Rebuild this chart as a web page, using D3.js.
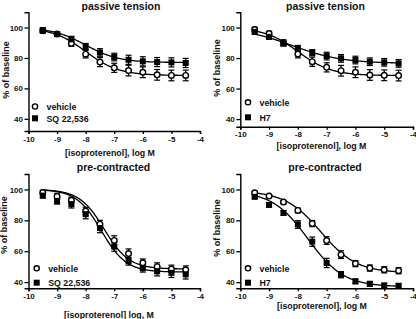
<!DOCTYPE html>
<html><head><meta charset="utf-8">
<script src="https://cdn.jsdelivr.net/npm/d3@7"></script>
<style>
html,body{margin:0;padding:0;background:#fff;}
svg{display:block;font-family:"Liberation Sans",Arial,sans-serif;font-weight:bold;}
</style></head>
<body>
<svg id="chart" width="416" height="319"></svg>
<script>
// ---- data ----
const logDose = [-9.5, -9, -8.5, -8, -7.5, -7, -6.5, -6, -5.5, -5, -4.5];
const xTicks = [-10, -9, -8, -7, -6, -5, -4];
const yTicks = [40, 60, 80, 100];
const panelTitles = ["passive tension", "passive tension", "pre-contracted", "pre-contracted"];
const xTitles = ["[isoproterenol], log M", "[isoproterenol], log M", "[isoproterenol] log, M", "[isoproterenol], log M"];
const yTitle = "% of baseline";
const legendOpen = ["vehicle", "vehicle", "vehicle", "vehicle"];
const legendFilled = ["SQ 22,536", "H7", "SQ 22,536", "H7"];

// panel 1: passive tension, vehicle vs SQ 22,536
const p1Vehicle    = [97.8, 95.7, 89.6, 82.5, 77.3, 73.5, 71.7, 70.6, 68.9, 68.5, 68.5];
const p1VehicleErr = [1.5, 1.5, 2, 2.5, 3, 3, 3.5, 3.5, 3.5, 3.5, 3.5];
const p1Drug       = [98.3, 95.7, 92.2, 87.5, 83.6, 80.6, 78.8, 77.8, 77.3, 77.1, 76.7];
const p1DrugErr    = [1.5, 1.5, 2, 2, 2.5, 2.5, 3, 3, 3, 3, 3];
// panel 2: passive tension, vehicle vs H7
const p2Vehicle    = [98.7, 96.1, 90.0, 82.6, 77.6, 73.9, 71.7, 70.7, 68.9, 68.7, 68.5];
const p2VehicleErr = [1.5, 1.5, 2, 2.5, 3, 3, 3.5, 3.5, 3.5, 3.5, 3.5];
const p2Drug       = [97.2, 93.9, 89.6, 86.3, 83.5, 81.3, 79.8, 78.7, 77.6, 77.2, 76.5];
const p2DrugErr    = [1.5, 1.5, 1.5, 2, 2, 2.5, 2.5, 2.5, 2.5, 2.5, 2.5];
// panel 3: pre-contracted, vehicle vs SQ 22,536
const p3Vehicle    = [98.0, 95.5, 93.0, 86.0, 77.5, 67.0, 58.5, 52.5, 50.0, 48.5, 48.0];
const p3VehicleErr = [1.5, 2, 2, 2.5, 2.5, 3, 3, 2.5, 2.5, 2.5, 2.5];
const p3Drug       = [96.0, 92.5, 90.5, 84.0, 75.0, 63.0, 53.5, 49.0, 47.0, 46.0, 45.0];
const p3DrugErr    = [1.5, 2, 2.5, 3, 3, 3, 2.5, 2.5, 3, 3, 3];
// panel 4: pre-contracted, vehicle vs H7
const p4Vehicle    = [97.8, 95.7, 91.8, 86.4, 77.9, 66.9, 57.8, 52.0, 49.1, 48.0, 47.4];
const p4VehicleErr = [1, 1, 1, 1.5, 2, 2.5, 2.5, 2, 2, 2, 2];
const p4Drug       = [95.2, 90.0, 84.8, 77.3, 66.2, 52.4, 44.8, 40.5, 38.9, 37.8, 37.6];
const p4DrugErr    = [1, 1.5, 1.5, 2.5, 3, 3, 2, 1.5, 1.5, 1.5, 1.5];

// fitted sigmoid parameters: [top, bottom, logEC50, hill]
const p1VehicleFit = [100, 68.5, -8.0, 0.75];
const p1DrugFit    = [100, 77.0, -8.0, 0.75];
const p2VehicleFit = [100, 68.5, -8.0, 0.75];
const p2DrugFit    = [100, 76.5, -8.2, 0.5];
const p3VehicleFit = [100, 48.5, -7.35, 1.0];
const p3DrugFit    = [100, 46.5, -7.45, 1.0];
const p4VehicleFit = [99, 46, -7.2, 0.7];
const p4DrugFit    = [99, 37, -7.65, 0.7];

// ---- layout ----
const panels = [
  {vehicle:p1Vehicle, vErr:p1VehicleErr, drug:p1Drug, dErr:p1DrugErr, vFit:p1VehicleFit, dFit:p1DrugFit,
   xr:[28.5,200], yd:[32,110], yr:[131,12.3], title:[121,10], xt:[110,155.5], yt:[9,70], leg:[35,106.5,118.3]},
  {vehicle:p2Vehicle, vErr:p2VehicleErr, drug:p2Drug, dErr:p2DrugErr, vFit:p2VehicleFit, dFit:p2DrugFit,
   xr:[240.3,413], yd:[35,110], yr:[126.7,12.3], title:[325.5,10], xt:[321.5,149], yt:[220,68], leg:[248,102.3,117.3]},
  {vehicle:p3Vehicle, vErr:p3VehicleErr, drug:p3Drug, dErr:p3DrugErr, vFit:p3VehicleFit, dFit:p3DrugFit,
   xr:[28.5,200], yd:[36,110], yr:[288.3,174], title:[113.5,171], xt:[109,318], yt:[7,225], leg:[36.7,268.3,282.7]},
  {vehicle:p4Vehicle, vErr:p4VehicleErr, drug:p4Drug, dErr:p4DrugErr, vFit:p4VehicleFit, dFit:p4DrugFit,
   xr:[240.3,413], yd:[36,110], yr:[288.3,174], title:[325,171], xt:[322,309], yt:[220,228], leg:[248,268.3,282.7]}
];

const svg = d3.select("#chart");
const sig = (p, x) => p[1] + (p[0] - p[1]) / (1 + Math.pow(10, (x - p[2]) * p[3]));

panels.forEach((P, i) => {
  const x = d3.scaleLinear().domain([-10, -4]).range(P.xr);
  const y = d3.scaleLinear().domain(P.yd).range(P.yr);
  const g = svg.append("g");

  // axes
  const xAxis = g.append("g").attr("transform", `translate(0,${P.yr[0]})`)
    .call(d3.axisBottom(x).tickValues(xTicks).tickSize(3).tickPadding(2));
  const yAxis = g.append("g").attr("transform", `translate(${P.xr[0]},0)`)
    .call(d3.axisLeft(y).tickValues(yTicks).tickSize(4).tickPadding(1.5));
  [xAxis, yAxis].forEach(a => {
    a.select(".domain").attr("stroke", "#000").attr("stroke-width", 1.4);
    a.selectAll(".tick line").attr("stroke", "#000").attr("stroke-width", 1.3);
    a.selectAll(".tick text").attr("fill", "#111").attr("font-size", "8px").attr("font-weight", "bold")
      .attr("font-family", "Liberation Sans, Arial, sans-serif");
  });
  xAxis.selectAll(".tick text").text(d => String(d));

  // titles
  g.append("text").attr("x", P.title[0]).attr("y", P.title[1]).attr("text-anchor", "middle")
    .attr("font-size", "10.5px").attr("fill", "#111").text(panelTitles[i]);
  g.append("text").attr("x", P.xt[0]).attr("y", P.xt[1]).attr("text-anchor", "middle")
    .attr("font-size", "8.8px").attr("fill", "#111").text(xTitles[i]);
  g.append("text").attr("transform", `translate(${P.yt[0]},${P.yt[1]}) rotate(-90)`).attr("text-anchor", "middle")
    .attr("font-size", "9px").attr("fill", "#111").text(yTitle);

  // fitted curves
  const xs = d3.range(-9.5, -4.5 + 1e-9, 0.02);
  const line = d3.line().x(d => x(d[0])).y(d => y(d[1])).curve(d3.curveLinear);
  [P.vFit, P.dFit].forEach(fp => {
    g.append("path").datum(xs.map(v => [v, sig(fp, v)]))
      .attr("d", line).attr("fill", "none").attr("stroke", "#000").attr("stroke-width", 1.3);
  });

  // error bars
  const drawErr = (vals, errs) => {
    logDose.forEach((d, k) => {
      const cx = x(d), y1 = y(vals[k] + errs[k]), y2 = y(vals[k] - errs[k]);
      g.append("line").attr("x1", cx).attr("x2", cx).attr("y1", y1).attr("y2", y2)
        .attr("stroke", "#000").attr("stroke-width", 1.2);
      [y1, y2].forEach(yy => g.append("line").attr("x1", cx - 3).attr("x2", cx + 3).attr("y1", yy).attr("y2", yy)
        .attr("stroke", "#000").attr("stroke-width", 1.2));
    });
  };
  drawErr(P.vehicle, P.vErr);
  drawErr(P.drug, P.dErr);

  // markers
  g.selectAll(null).data(logDose.map((d, k) => [d, P.vehicle[k]])).enter().append("circle")
    .attr("cx", d => x(d[0])).attr("cy", d => y(d[1])).attr("r", 2.8)
    .attr("fill", "#fff").attr("stroke", "#000").attr("stroke-width", 1.4);
  g.selectAll(null).data(logDose.map((d, k) => [d, P.drug[k]])).enter().append("rect")
    .attr("x", d => x(d[0]) - 3).attr("y", d => y(d[1]) - 3).attr("width", 6).attr("height", 6)
    .attr("fill", "#000");

  // legend
  const [lx, ly1, ly2] = P.leg;
  g.append("circle").attr("cx", lx).attr("cy", ly1).attr("r", 2.6).attr("fill", "#fff")
    .attr("stroke", "#000").attr("stroke-width", 1.4);
  g.append("rect").attr("x", lx - 3).attr("y", ly2 - 3).attr("width", 6).attr("height", 6).attr("fill", "#000");
  g.append("text").attr("x", lx + 11.5).attr("y", ly1 + 3.2).attr("font-size", "8.8px").attr("fill", "#111").text(legendOpen[i]);
  g.append("text").attr("x", lx + 11.5).attr("y", ly2 + 3.2).attr("font-size", "8.8px").attr("fill", "#111").text(legendFilled[i]);
});
</script>
</body></html>
